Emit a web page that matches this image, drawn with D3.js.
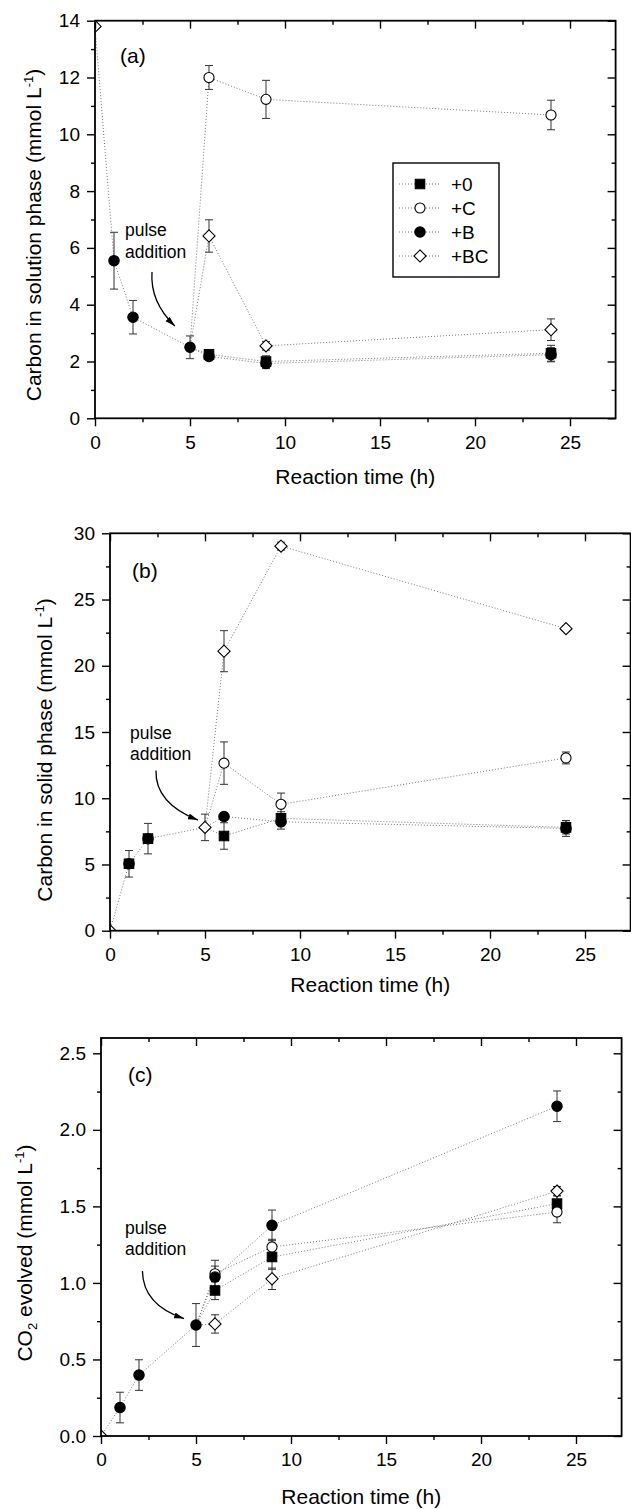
<!DOCTYPE html>
<html>
<head>
<meta charset="utf-8">
<script src="https://cdn.jsdelivr.net/npm/d3@7"></script>
<style>
  body { margin: 0; background: #fff; }
  svg { display: block; font-family: 'Liberation Sans', Arial, Helvetica, sans-serif; }
</style>
</head>
<body>
<svg id="chart" width="631" height="1509"></svg>
<script>
// sampling times: before the pulse (shared by all treatments) and after it
const preTimes = [0, 1, 2, 5];
const postTimes = [6, 9, 24];
const treatments = ['+0', '+C', '+B', '+BC'];
const xTicks = [0, 5, 10, 15, 20, 25];

// (a) carbon in solution phase
const solPre = [13.8, 5.55, 3.56, 2.5];
const solPreErr = [0, 1.0, 0.59, 0.4];
const sol0 = [2.25, 2.0, 2.29];
const sol0Err = [0.15, 0.2, 0.28];
const solC = [12.0, 11.23, 10.68];
const solCErr = [0.42, 0.67, 0.52];
const solB = [2.18, 1.93, 2.24];
const solBErr = [0.12, 0.18, 0.25];
const solBC = [6.42, 2.55, 3.12];
const solBCErr = [0.57, 0.15, 0.38];

// (b) carbon in solid phase
const solidPre = [0, 5.05, 6.95, 7.8];
const solidPreErr = [0, 1.0, 1.15, 1.0];
const solid0 = [7.15, 8.48, 7.8];
const solid0Err = [1.0, 0.5, 0.5];
const solidC = [12.65, 9.54, 13.04];
const solidCErr = [1.6, 0.85, 0.45];
const solidB = [8.62, 8.22, 7.72];
const solidBErr = [0.2, 0.55, 0.6];
const solidBC = [21.1, 29.03, 22.8];
const solidBCErr = [1.55, 0.3, 0.2];

// (c) CO2 evolved
const co2Pre = [0, 0.186, 0.398, 0.725];
const co2PreErr = [0, 0.1, 0.1, 0.14];
const co20 = [0.951, 1.169, 1.518];
const co20Err = [0.06, 0.08, 0.05];
const co2C = [1.06, 1.235, 1.463];
const co2CErr = [0.05, 0.05, 0.07];
const co2B = [1.038, 1.376, 2.154];
const co2BErr = [0.11, 0.1, 0.1];
const co2BC = [0.732, 1.027, 1.6];
const co2BCErr = [0.06, 0.07, 0.03];

const xMax = 27.4;
const pxPerHour = 19;

const diamond = {
  draw(ctx, size) {
    const r = Math.sqrt(size / 2);
    ctx.moveTo(0, -r);
    ctx.lineTo(r, 0);
    ctx.lineTo(0, r);
    ctx.lineTo(-r, 0);
    ctx.closePath();
  }
};

const shapes = {
  '+0': { type: d3.symbolSquare, size: 90, fill: '#000' },
  '+C': { type: d3.symbolCircle, size: 80, fill: '#fff' },
  '+B': { type: d3.symbolCircle, size: 85, fill: '#000' },
  '+BC': { type: diamond, size: 74, fill: '#fff' }
};

const panels = [
  {
    id: 'a', left: 95, top: 20.7, bottom: 418.3, yMax: 14, yStep: 2, fmt: d3.format('d'),
    pre: solPre, preErr: solPreErr,
    post: [sol0, solC, solB, solBC], postErr: [sol0Err, solCErr, solBErr, solBCErr],
    preShapes: [['+BC'], ['+B'], ['+B'], ['+B']],
    yTitle: [['Carbon in solution phase (mmol L', 0, 21], ['-1', -8, 13], [')', 8, 21]],
    yTitleX: 41, yTitleY: 235, xTitleY: 484,
    tag: [1.32, 12.5],
    note: [1.58, 6.42, 5.64],
    arrow: [[3.0, 5.15], [2.89, 4.1], [4.2, 3.25]],
    legend: true
  },
  {
    id: 'b', left: 110, top: 533.3, bottom: 930.7, yMax: 30, yStep: 5, fmt: d3.format('d'),
    pre: solidPre, preErr: solidPreErr,
    post: [solid0, solidC, solidB, solidBC], postErr: [solid0Err, solidCErr, solidBErr, solidBCErr],
    preShapes: [['+BC'], ['+0', '+B'], ['+0', '+B'], ['+BC']],
    yTitle: [['Carbon in solid phase (mmol L', 0, 21], ['-1', -8, 13], [')', 8, 21]],
    yTitleX: 52, yTitleY: 750, xTitleY: 992,
    tag: [1.16, 26.6],
    note: [1.05, 14.5, 12.9],
    arrow: [[2.42, 12.1], [2.37, 9.64], [4.63, 8.35]],
    legend: false
  },
  {
    id: 'c', left: 101, top: 1038, bottom: 1436, yMax: 2.6, yStep: 0.5, fmt: d3.format('.1f'),
    pre: co2Pre, preErr: co2PreErr,
    post: [co20, co2C, co2B, co2BC], postErr: [co20Err, co2CErr, co2BErr, co2BCErr],
    preShapes: [['+BC'], ['+B'], ['+B'], ['+B']],
    yTitle: [['CO', 0, 21], ['2', 5, 13], [' evolved (mmol L', -5, 21], ['-1', -8, 13], [')', 8, 21]],
    yTitleX: 32, yTitleY: 1253, xTitleY: 1504,
    tag: [1.42, 2.31],
    note: [1.26, 1.32, 1.18],
    arrow: [[2.18, 1.078], [2.21, 0.856], [4.37, 0.767]],
    legend: false
  }
];

const svg = d3.select('#chart');
const defs = svg.append('defs');

defs
  .append('marker')
  .attr('id', 'arrowhead')
  .attr('viewBox', '0 0 10 6')
  .attr('refX', 10)
  .attr('refY', 3)
  .attr('markerWidth', 10)
  .attr('markerHeight', 6)
  .attr('markerUnits', 'userSpaceOnUse')
  .attr('orient', 'auto')
  .append('path')
  .attr('d', 'M0,0 L10,3 L0,6 Z')
  .attr('fill', '#000');

function drawMarker(g, key, cx, cy) {
  const s = shapes[key];
  g.append('path')
    .attr('d', d3.symbol().type(s.type).size(s.size)())
    .attr('transform', 'translate(' + cx + ',' + cy + ')')
    .attr('fill', s.fill)
    .attr('stroke', '#000')
    .attr('stroke-width', 1.1);
}

function drawErr(g, cx, yv, e, y) {
  if (!e) return;
  const y1 = y(yv + e);
  const y2 = y(yv - e);
  g.append('line').attr('x1', cx).attr('x2', cx).attr('y1', y1).attr('y2', y2);
  g.append('line').attr('x1', cx - 4).attr('x2', cx + 4).attr('y1', y1).attr('y2', y1);
  g.append('line').attr('x1', cx - 4).attr('x2', cx + 4).attr('y1', y2).attr('y2', y2);
}

function drawPanel(p) {
  const right = p.left + xMax * pxPerHour;
  const x = d3.scaleLinear().domain([0, xMax]).range([p.left, right]);
  const y = d3.scaleLinear().domain([0, p.yMax]).range([p.bottom, p.top]);

  defs
    .append('clipPath')
    .attr('id', 'clip-' + p.id)
    .append('rect')
    .attr('x', p.left)
    .attr('y', p.top)
    .attr('width', right - p.left)
    .attr('height', p.bottom - p.top);

  const plot = svg.append('g').attr('clip-path', 'url(#clip-' + p.id + ')');

  const line = d3
    .line()
    .x(d => x(d[0]))
    .y(d => y(d[1]));

  const lines = plot
    .append('g')
    .attr('fill', 'none')
    .attr('stroke', '#777')
    .attr('stroke-width', 1)
    .attr('stroke-dasharray', '1,2');

  lines.append('path').attr('d', line(preTimes.map((t, i) => [t, p.pre[i]])));

  const last = preTimes.length - 1;
  p.post.forEach(vals => {
    const pts = [[preTimes[last], p.pre[last]]].concat(postTimes.map((t, i) => [t, vals[i]]));
    lines.append('path').attr('d', line(pts));
  });

  const errs = plot.append('g').attr('stroke', '#333').attr('stroke-width', 1);
  preTimes.forEach((t, i) => drawErr(errs, x(t), p.pre[i], p.preErr[i], y));
  p.post.forEach((vals, k) => {
    postTimes.forEach((t, i) => drawErr(errs, x(t), vals[i], p.postErr[k][i], y));
  });

  const marks = plot.append('g');
  preTimes.forEach((t, i) => {
    p.preShapes[i].forEach(key => drawMarker(marks, key, x(t), y(p.pre[i])));
  });
  p.post.forEach((vals, k) => {
    postTimes.forEach((t, i) => drawMarker(marks, treatments[k], x(t), y(vals[i])));
  });

  // axes: left and bottom ticks point out, top and right ticks point in
  const yMajor = d3.range(0, p.yMax + 1e-9, p.yStep);
  const yMinor = d3.range(p.yStep / 2, p.yMax, p.yStep);
  const xMinor = d3.range(2.5, xMax, 5);

  function axis(fn, scale, values, size, pad, fmt, transform) {
    const ax = fn(scale)
      .tickValues(values)
      .tickSizeInner(size)
      .tickSizeOuter(0)
      .tickPadding(pad)
      .tickFormat(fmt || '');
    const ga = svg
      .append('g')
      .attr('transform', transform)
      .call(ax)
      .attr('font-size', 19)
      .attr('font-family', null);
    ga.select('.domain').remove();
    ga.selectAll('line').attr('stroke', '#000').attr('stroke-width', 1.4);
    ga.selectAll('text').attr('fill', '#000');
  }

  axis(d3.axisLeft, y, yMajor, 8, 7, p.fmt, 'translate(' + p.left + ',0)');
  axis(d3.axisLeft, y, yMinor, 4, 0, null, 'translate(' + p.left + ',0)');
  axis(d3.axisBottom, x, xTicks, 8, 9, d3.format('d'), 'translate(0,' + p.bottom + ')');
  axis(d3.axisBottom, x, xMinor, 4, 0, null, 'translate(0,' + p.bottom + ')');
  axis(d3.axisTop, x, xTicks, -8, 0, null, 'translate(0,' + p.top + ')');
  axis(d3.axisTop, x, xMinor, -4, 0, null, 'translate(0,' + p.top + ')');
  axis(d3.axisRight, y, yMajor, -8, 0, null, 'translate(' + right + ',0)');
  axis(d3.axisRight, y, yMinor, -4, 0, null, 'translate(' + right + ',0)');

  svg
    .append('rect')
    .attr('x', p.left)
    .attr('y', p.top)
    .attr('width', right - p.left)
    .attr('height', p.bottom - p.top)
    .attr('fill', 'none')
    .attr('stroke', '#000')
    .attr('stroke-width', 1.8);

  svg
    .append('text')
    .attr('x', (p.left + right) / 2)
    .attr('y', p.xTitleY)
    .attr('text-anchor', 'middle')
    .attr('font-size', 21)
    .text('Reaction time (h)');

  const yt = svg
    .append('text')
    .attr('transform', 'translate(' + p.yTitleX + ',' + p.yTitleY + ') rotate(-90)')
    .attr('text-anchor', 'middle')
    .attr('font-size', 21);
  p.yTitle.forEach(part => {
    yt.append('tspan').attr('dy', part[1]).attr('font-size', part[2]).text(part[0]);
  });

  svg
    .append('text')
    .attr('x', x(p.tag[0]))
    .attr('y', y(p.tag[1]))
    .attr('font-size', 21)
    .text('(' + p.id + ')');

  svg
    .append('text')
    .attr('x', x(p.note[0]))
    .attr('y', y(p.note[1]))
    .attr('font-size', 17.5)
    .text('pulse');
  svg
    .append('text')
    .attr('x', x(p.note[0]))
    .attr('y', y(p.note[2]))
    .attr('font-size', 17.5)
    .text('addition');

  const a = p.arrow;
  svg
    .append('path')
    .attr(
      'd',
      'M' + x(a[0][0]) + ',' + y(a[0][1]) +
        ' Q' + x(a[1][0]) + ',' + y(a[1][1]) +
        ' ' + x(a[2][0]) + ',' + y(a[2][1])
    )
    .attr('fill', 'none')
    .attr('stroke', '#000')
    .attr('stroke-width', 1.3)
    .attr('marker-end', 'url(#arrowhead)');

  if (p.legend) {
    const lg = svg.append('g').attr('transform', 'translate(393,163)');
    lg.append('rect')
      .attr('width', 106)
      .attr('height', 114)
      .attr('fill', '#fff')
      .attr('stroke', '#000')
      .attr('stroke-width', 1.4);
    treatments.forEach((key, i) => {
      const ry = 21 + i * 24;
      lg.append('line')
        .attr('x1', 6)
        .attr('x2', 46)
        .attr('y1', ry)
        .attr('y2', ry)
        .attr('stroke', '#777')
        .attr('stroke-dasharray', '1,2');
      drawMarker(lg, key, 27, ry);
      lg.append('text')
        .attr('x', 58)
        .attr('y', ry + 7)
        .attr('font-size', 19)
        .text(key);
    });
  }
}

panels.forEach(drawPanel);
</script>
</body>
</html>
